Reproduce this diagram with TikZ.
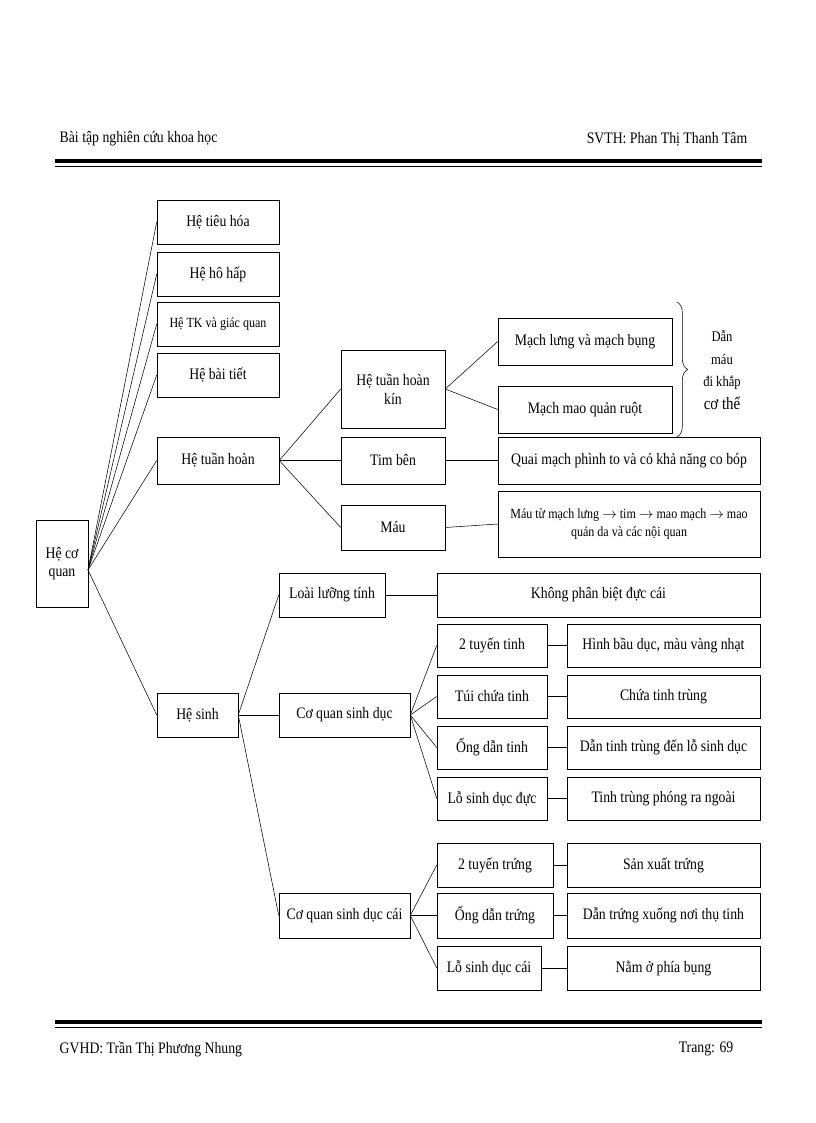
\documentclass[tikz,border=0pt]{standalone}
\usepackage{fontspec}
\setmainfont{Liberation Serif}[FakeStretch=0.86]
\usetikzlibrary{decorations.pathreplacing}
\tikzset{box/.style={draw, inner sep=0pt, align=center, font=\fontsize{12}{14}\selectfont}}
% box from pixel corners
\newcommand{\bx}[6]{\node[box, minimum width={(#4-#2)*0.75pt}, minimum height={(#5-#3)*0.75pt}] (#1) at ({(#2+#4)/2},{(#3+#5)/2}) {#6};}
\begin{document}
\begin{tikzpicture}[x=0.75pt,y=-0.75pt]
      \useasboundingbox (0,0) rectangle (816,1123);
      % header and footer
      \node[anchor=west, font=\fontsize{12}{14}\selectfont] (hl) at (55,139) {Bài tập nghiên cứu khoa học};
      \node[anchor=east, font=\fontsize{12}{14}\selectfont] (hr) at (752,139) {SVTH: Phan Thị Thanh Tâm};
      \draw[line width=2.5pt] (55,161) -- (762,161);
      \draw[line width=0.8pt] (55,166.5) -- (762,166.5);
      \draw[line width=2.5pt] (55,1022) -- (762,1022);
      \draw[line width=0.8pt] (55,1027.5) -- (762,1027.5);
      \node[anchor=west, font=\fontsize{12}{14}\selectfont] (fl) at (55,1049) {GVHD: Trần Thị Phương Nhung};
      \node[anchor=east, font=\fontsize{12}{14}\selectfont] (fr) at (738,1049) {Trang: 69};
      % level 0 and 1
      \bx{A}{36}{520}{88}{607}{Hệ cơ\\quan}
      \bx{B1}{157}{200}{279}{244}{Hệ tiêu hóa}
      \bx{B2}{157}{252}{279}{296}{Hệ hô hấp}
      \bx{B3}{157}{302}{279}{346}{\fontsize{10.5}{12}\selectfont Hệ TK và giác quan}
      \bx{B4}{157}{353}{279}{397}{Hệ bài tiết}
      \bx{B5}{157}{437}{279}{484}{Hệ tuần hoàn}
      \bx{B6}{157}{693}{238}{737}{Hệ sinh}
      \coordinate (a) at (88,570);
      \foreach \n in {B1,B2,B3,B4,B5,B6} \draw (a) -- (\n.west);
      % he tuan hoan
      \bx{C1}{341}{350}{445}{428}{Hệ tuần hoàn\\kín}
      \bx{C2}{341}{437}{445}{484}{Tim bên}
      \bx{C3}{341}{505}{445}{550}{Máu}
      \foreach \n in {C1,C2,C3} \draw (B5.east) -- (\n.west);
      \bx{D1}{498}{318}{672}{365}{Mạch lưng và mạch bụng}
      \bx{D2}{498}{386}{672}{433}{Mạch mao quản ruột}
      \bx{D3}{498}{437}{760}{484}{Quai mạch phình to và có khả năng co bóp}
      \bx{D4}{498}{491}{760}{557}{\fontsize{10.5}{16}\selectfont Máu từ mạch lưng $\rightarrow$ tim $\rightarrow$ mao mạch $\rightarrow$ mao\\\fontsize{10.5}{16}\selectfont quản da và các nội quan}
      \draw (C1.east) -- (D1.west);
      \draw (C1.east) -- (D2.west);
      \draw (C2.east) -- (D3.west);
      \draw (C3.east) -- (D4.west);
      \coordinate (b1) at (677,302);
      \coordinate (b2) at (677,437);
      \draw[decorate, decoration={brace, amplitude=8pt}] (b1) -- (b2);
      \node[align=center, font=\fontsize{11}{17}\selectfont] (dm) at (722,370) {Dẫn\\máu\\đi khắp\\{\fontsize{13}{15}\selectfont cơ thể}};
      % he sinh
      \bx{E1}{279}{573}{385}{617}{Loài lưỡng tính}
      \bx{E2}{279}{693}{410}{737}{Cơ quan sinh dục}
      \bx{E3}{279}{893}{410}{938}{Cơ quan sinh dục cái}
      \foreach \n in {E1,E2,E3} \draw (B6.east) -- (\n.west);
      \bx{F0}{437}{573}{760}{617}{Không phân biệt đực cái}
      \draw (E1.east) -- (F0.west);
      \bx{F1}{437}{624}{547}{667}{2 tuyến tinh}
      \bx{F2}{437}{675}{547}{718}{Túi chứa tinh}
      \bx{F3}{437}{726}{547}{769}{Ống dẫn tinh}
      \bx{F4}{437}{777}{547}{820}{Lỗ sinh dục đực}
      \foreach \n in {F1,F2,F3,F4} \draw (E2.east) -- (\n.west);
      \bx{G1}{567}{624}{760}{667}{Hình bầu dục, màu vàng nhạt}
      \bx{G2}{567}{675}{760}{718}{Chứa tinh trùng}
      \bx{G3}{567}{726}{760}{769}{Dẫn tinh trùng đến lỗ sinh dục}
      \bx{G4}{567}{777}{760}{820}{Tinh trùng phóng ra ngoài}
      \foreach \i in {1,2,3,4} \draw (F\i.east) -- (G\i.west);
      \bx{H1}{437}{843}{553}{887}{2 tuyến trứng}
      \bx{H2}{437}{893}{553}{938}{Ống dẫn trứng}
      \bx{H3}{437}{946}{541}{990}{Lỗ sinh dục cái}
      \foreach \n in {H1,H2,H3} \draw (E3.east) -- (\n.west);
      \bx{K1}{567}{843}{760}{887}{Sản xuất trứng}
      \bx{K2}{567}{893}{760}{938}{Dẫn trứng xuống nơi thụ tinh}
      \bx{K3}{567}{946}{760}{990}{Nằm ở phía bụng}
      \foreach \i in {1,2,3} \draw (H\i.east) -- (K\i.west);
    \end{tikzpicture}
\end{document}
